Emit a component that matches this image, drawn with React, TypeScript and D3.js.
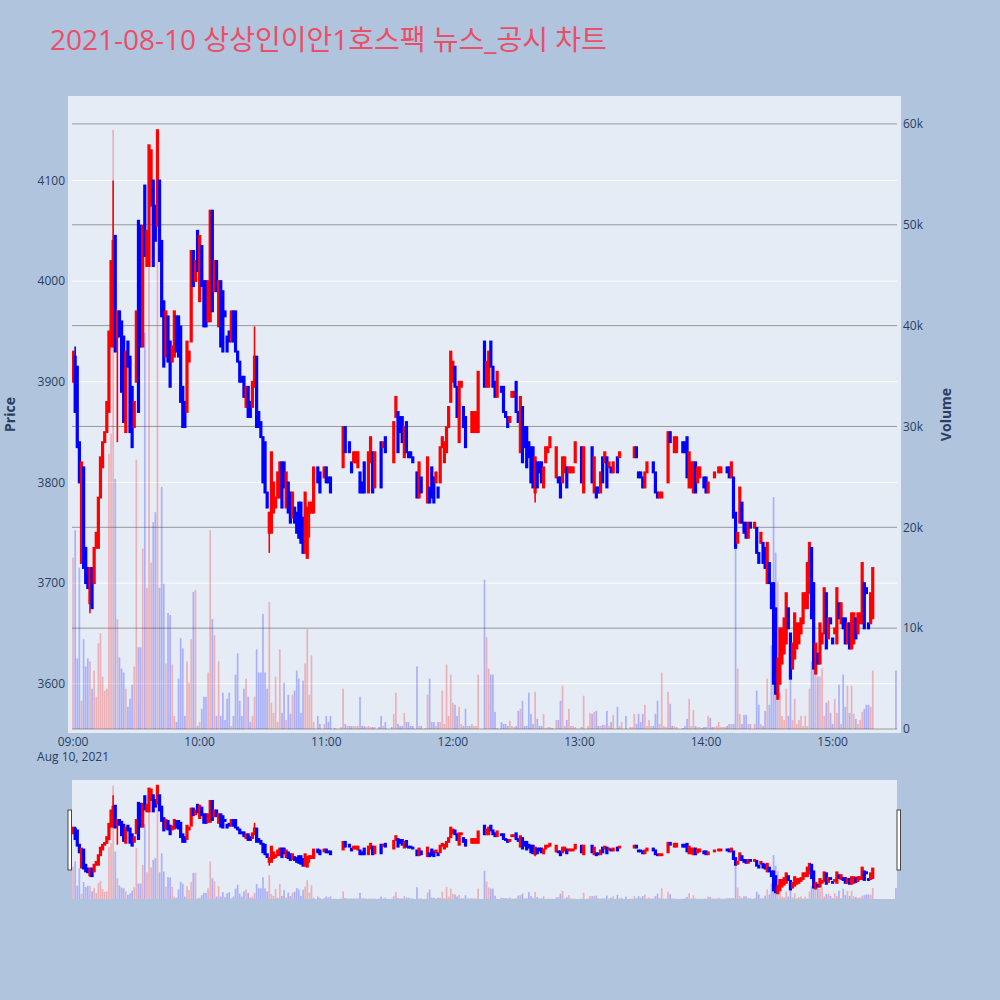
import * as React from 'react';
import * as d3 from 'd3';

const chartTitle = '2021-08-10 상상인이안1호스팩 뉴스_공시 차트';

// minutes after 09:00 for each 1-minute candle
const minutes = [
    0, 1, 2, 3, 4, 5, 6, 7, 8, 9, 10, 11, 12, 13, 14, 15, 16, 17, 18, 19,
    20, 21, 22, 23, 24, 25, 26, 27, 28, 29, 30, 31, 32, 33, 34, 35, 36, 37, 38, 39,
    40, 41, 42, 43, 44, 45, 46, 47, 48, 49, 50, 51, 52, 53, 54, 55, 56, 57, 58, 59,
    60, 61, 62, 63, 64, 65, 66, 67, 68, 69, 70, 71, 72, 73, 74, 75, 76, 77, 78, 79,
    80, 81, 82, 83, 84, 85, 86, 87, 88, 89, 90, 91, 92, 93, 94, 95, 96, 97, 98, 99,
    100, 101, 102, 103, 104, 105, 106, 107, 108, 109, 110, 111, 112, 113, 114, 116, 117, 119, 120, 121,
    122, 124, 127, 128, 129, 130, 131, 132, 133, 134, 135, 136, 137, 138, 139, 140, 141, 142, 143, 145,
    146, 147, 148, 151, 152, 153, 154, 155, 156, 157, 158, 159, 160, 161, 163, 164, 165, 167, 168, 169,
    170, 171, 172, 173, 174, 175, 176, 177, 178, 179, 180, 181, 182, 183, 184, 185, 186, 187, 188, 189,
    190, 191, 192, 195, 196, 197, 198, 199, 200, 201, 203, 204, 205, 206, 207, 208, 209, 210, 211, 212,
    213, 214, 215, 216, 217, 218, 219, 220, 221, 222, 223, 224, 225, 226, 227, 229, 230, 231, 232, 233,
    234, 235, 236, 237, 238, 241, 242, 244, 245, 246, 247, 248, 249, 250, 251, 252, 253, 254, 255, 256,
    258, 259, 260, 262, 264, 265, 266, 267, 268, 269, 270, 271, 272, 273, 274, 275, 276, 277, 278, 279,
    280, 281, 282, 283, 284, 285, 286, 289, 290, 291, 292, 293, 294, 295, 296, 297, 298, 299, 300, 301,
    302, 303, 304, 305, 306, 307, 308, 309, 310, 311, 312, 313, 314, 315, 316, 317, 318, 319, 320, 321,
    323, 324, 325, 326, 327, 328, 329, 330, 331, 332, 333, 334, 335, 336, 337, 338, 339, 340, 341, 342,
    343, 344, 345, 346, 347, 348, 349, 350, 351, 352, 353, 354, 355, 356, 357, 358, 359, 360, 361, 362,
    363, 364, 365, 366, 367, 368, 369, 370, 371, 372, 373, 374, 375, 376, 377, 378, 379, 390,
];

const opens = [
    3900, 3925, 3915, 3840, 3720, 3815, 3735, 3715, 3680, 3715, 3700, 3735, 3735, 3785, 3815, 3840, 3850, 3870, 3935, 3935,
    4045, 3945, 3970, 3960, 3945, 3850, 3940, 3925, 3895, 3855, 3900, 4060, 4055, 3935, 4095, 4015, 4015, 4075, 4100, 4075,
    4055, 4100, 4040, 3980, 3925, 3965, 3940, 3920, 3925, 3965, 3965, 3955, 3895, 3880, 3870, 3920, 3940, 4030, 4000, 4050,
    3980, 4035, 4000, 4000, 3960, 3960, 4070, 3990, 4020, 3955, 4000, 3990, 3970, 3945, 3950, 3940, 3970, 3970, 3930, 3920,
    3905, 3905, 3875, 3895, 3880, 3875, 3895, 3925, 3870, 3860, 3845, 3840, 3790, 3750, 3750, 3770, 3775, 3785, 3785, 3820,
    3820, 3775, 3800, 3790, 3765, 3775, 3770, 3780, 3780, 3765, 3730, 3725, 3770, 3770, 3770, 3815, 3810, 3805, 3815, 3805,
    3805, 3790, 3810, 3815, 3855, 3845, 3840, 3820, 3820, 3820, 3815, 3810, 3800, 3820, 3810, 3790, 3820, 3830, 3795, 3805,
    3840, 3835, 3845, 3825, 3820, 3865, 3870, 3865, 3865, 3825, 3860, 3830, 3830, 3825, 3810, 3785, 3805, 3800, 3780, 3795,
    3815, 3805, 3800, 3795, 3800, 3835, 3820, 3830, 3855, 3880, 3900, 3915, 3895, 3840, 3895, 3875, 3865, 3870, 3850, 3850,
    3850, 3850, 3850, 3940, 3895, 3895, 3940, 3915, 3900, 3885, 3895, 3895, 3870, 3865, 3860, 3885, 3885, 3900, 3870, 3830,
    3875, 3855, 3855, 3840, 3835, 3835, 3790, 3820, 3820, 3820, 3795, 3820, 3830, 3835, 3830, 3805, 3805, 3805, 3800, 3810,
    3815, 3810, 3810, 3810, 3820, 3835, 3790, 3835, 3835, 3835, 3790, 3795, 3795, 3790, 3825, 3820, 3825, 3815, 3815, 3810,
    3825, 3825, 3830, 3815, 3825, 3825, 3825, 3835, 3810, 3810, 3805, 3795, 3810, 3820, 3820, 3820, 3810, 3790, 3785, 3785,
    3800, 3800, 3800, 3850, 3830, 3830, 3830, 3840, 3840, 3845, 3795, 3795, 3790, 3820, 3800, 3805, 3810, 3805, 3805, 3790,
    3795, 3795, 3805, 3810, 3810, 3810, 3815, 3815, 3815, 3815, 3805, 3805, 3770, 3740, 3760, 3780, 3760, 3760, 3745, 3760,
    3755, 3755, 3730, 3740, 3740, 3735, 3700, 3720, 3700, 3700, 3675, 3585, 3600, 3620, 3630, 3640, 3675, 3650, 3615, 3625,
    3635, 3640, 3650, 3660, 3675, 3675, 3690, 3735, 3700, 3610, 3630, 3620, 3640, 3650, 3690, 3645, 3665, 3645, 3650, 3640,
    3680, 3660, 3665, 3665, 3640, 3660, 3635, 3640, 3665, 3650, 3660, 3660, 3700, 3695, 3660, 3660, 3665, 3680,
];

const highs = [
    3930, 3935, 3915, 3840, 3820, 3815, 3735, 3715, 3715, 3715, 3735, 3750, 3785, 3825, 3840, 3850, 3880, 3950, 4020, 4100,
    4045, 3970, 3970, 3960, 3945, 3930, 3940, 3925, 3895, 3880, 3970, 4060, 4055, 4055, 4095, 4050, 4135, 4130, 4100, 4075,
    4150, 4100, 4040, 3980, 3970, 3965, 3940, 3935, 3970, 3965, 3965, 3955, 3895, 3880, 3940, 3930, 4030, 4030, 4020, 4050,
    4045, 4035, 4000, 4000, 4000, 4070, 4070, 4020, 4020, 4000, 4000, 3990, 3970, 3945, 3950, 3970, 3970, 3970, 3930, 3920,
    3905, 3905, 3895, 3895, 3880, 3900, 3955, 3925, 3870, 3860, 3845, 3840, 3790, 3770, 3830, 3800, 3785, 3810, 3820, 3820,
    3820, 3810, 3800, 3790, 3790, 3775, 3770, 3780, 3780, 3765, 3790, 3775, 3780, 3780, 3815, 3815, 3810, 3815, 3815, 3805,
    3805, 3790, 3810, 3855, 3855, 3845, 3840, 3820, 3830, 3830, 3830, 3810, 3800, 3820, 3810, 3830, 3845, 3830, 3830, 3805,
    3840, 3840, 3845, 3825, 3860, 3885, 3870, 3865, 3865, 3855, 3860, 3830, 3830, 3825, 3810, 3820, 3805, 3800, 3825, 3795,
    3815, 3805, 3810, 3795, 3835, 3845, 3840, 3855, 3875, 3930, 3920, 3915, 3895, 3900, 3900, 3875, 3865, 3870, 3850, 3870,
    3870, 3870, 3910, 3940, 3920, 3930, 3940, 3915, 3900, 3910, 3895, 3895, 3870, 3865, 3865, 3890, 3890, 3900, 3870, 3885,
    3875, 3855, 3855, 3840, 3835, 3835, 3825, 3820, 3820, 3820, 3815, 3835, 3835, 3845, 3830, 3835, 3805, 3805, 3825, 3825,
    3815, 3815, 3815, 3815, 3840, 3835, 3835, 3835, 3835, 3835, 3825, 3795, 3795, 3810, 3825, 3830, 3825, 3820, 3815, 3820,
    3825, 3830, 3830, 3815, 3825, 3825, 3835, 3835, 3810, 3810, 3805, 3810, 3820, 3820, 3820, 3820, 3810, 3790, 3790, 3790,
    3800, 3800, 3850, 3850, 3830, 3845, 3845, 3840, 3840, 3845, 3830, 3820, 3820, 3820, 3815, 3815, 3810, 3805, 3805, 3800,
    3795, 3795, 3810, 3810, 3815, 3815, 3815, 3815, 3815, 3815, 3820, 3805, 3770, 3750, 3795, 3780, 3760, 3760, 3760, 3760,
    3760, 3755, 3730, 3750, 3740, 3735, 3740, 3720, 3700, 3700, 3675, 3625, 3655, 3655, 3665, 3690, 3675, 3650, 3640, 3670,
    3660, 3660, 3665, 3690, 3690, 3720, 3740, 3735, 3700, 3640, 3630, 3660, 3650, 3695, 3690, 3665, 3665, 3645, 3655, 3695,
    3680, 3680, 3665, 3665, 3660, 3660, 3670, 3670, 3665, 3670, 3670, 3720, 3700, 3695, 3660, 3690, 3715, 3680,
];

const lows = [
    3900, 3870, 3835, 3800, 3720, 3715, 3700, 3695, 3670, 3675, 3700, 3735, 3735, 3785, 3815, 3840, 3850, 3870, 3935, 3935,
    3930, 3840, 3945, 3890, 3860, 3850, 3915, 3850, 3835, 3855, 3900, 3870, 3935, 3935, 4025, 4015, 4015, 4075, 4015, 4040,
    4055, 4020, 3965, 3915, 3925, 3920, 3895, 3920, 3925, 3930, 3925, 3880, 3855, 3855, 3870, 3920, 3940, 3995, 4000, 4010,
    3980, 3995, 3955, 3955, 3960, 3960, 3970, 3990, 3990, 3955, 3935, 3930, 3965, 3930, 3940, 3940, 3940, 3930, 3920, 3900,
    3900, 3885, 3875, 3865, 3865, 3875, 3895, 3855, 3855, 3845, 3800, 3790, 3775, 3730, 3750, 3770, 3775, 3785, 3785, 3775,
    3795, 3775, 3770, 3760, 3765, 3760, 3750, 3745, 3740, 3730, 3730, 3725, 3745, 3770, 3770, 3800, 3790, 3805, 3800, 3800,
    3790, 3790, 3810, 3815, 3830, 3845, 3830, 3810, 3820, 3820, 3815, 3790, 3790, 3790, 3810, 3790, 3820, 3790, 3795, 3805,
    3795, 3835, 3830, 3825, 3820, 3865, 3830, 3850, 3840, 3825, 3830, 3825, 3825, 3820, 3785, 3785, 3790, 3800, 3780, 3780,
    3785, 3780, 3800, 3785, 3800, 3835, 3820, 3830, 3855, 3880, 3900, 3895, 3865, 3840, 3895, 3855, 3835, 3870, 3850, 3850,
    3850, 3850, 3850, 3895, 3895, 3895, 3915, 3895, 3885, 3885, 3890, 3870, 3865, 3855, 3860, 3885, 3885, 3870, 3860, 3830,
    3820, 3835, 3815, 3825, 3800, 3795, 3780, 3795, 3810, 3800, 3795, 3820, 3830, 3835, 3830, 3805, 3800, 3785, 3800, 3810,
    3795, 3810, 3810, 3810, 3820, 3800, 3790, 3835, 3835, 3800, 3790, 3785, 3790, 3790, 3800, 3820, 3795, 3815, 3810, 3810,
    3810, 3825, 3830, 3815, 3825, 3825, 3825, 3825, 3805, 3805, 3795, 3795, 3810, 3820, 3820, 3810, 3790, 3785, 3785, 3785,
    3800, 3800, 3800, 3840, 3830, 3830, 3830, 3830, 3830, 3805, 3795, 3795, 3790, 3790, 3800, 3805, 3810, 3795, 3790, 3790,
    3795, 3795, 3805, 3810, 3810, 3810, 3815, 3815, 3810, 3805, 3805, 3765, 3735, 3740, 3760, 3760, 3750, 3745, 3745, 3755,
    3755, 3730, 3720, 3740, 3720, 3715, 3700, 3700, 3675, 3600, 3590, 3585, 3600, 3620, 3630, 3640, 3655, 3605, 3615, 3625,
    3635, 3640, 3650, 3660, 3675, 3675, 3690, 3665, 3615, 3610, 3620, 3620, 3640, 3650, 3635, 3645, 3660, 3640, 3650, 3640,
    3665, 3660, 3655, 3640, 3640, 3635, 3635, 3640, 3645, 3650, 3660, 3660, 3655, 3690, 3655, 3660, 3665, 3680,
];

const closes = [
    3930, 3870, 3835, 3800, 3820, 3715, 3700, 3695, 3715, 3675, 3735, 3750, 3785, 3825, 3840, 3850, 3880, 3950, 4020, 4040,
    3930, 3970, 3945, 3890, 3860, 3930, 3915, 3850, 3835, 3880, 3970, 3870, 3935, 4055, 4025, 4050, 4135, 4130, 4015, 4040,
    4150, 4020, 3965, 3915, 3970, 3920, 3895, 3935, 3970, 3930, 3925, 3880, 3855, 3855, 3940, 3930, 4030, 3995, 4020, 4010,
    4045, 3995, 3955, 3955, 4000, 4070, 3970, 4020, 3990, 4000, 3935, 3930, 3965, 3930, 3940, 3970, 3940, 3930, 3920, 3900,
    3900, 3885, 3895, 3865, 3865, 3900, 3925, 3855, 3855, 3845, 3800, 3790, 3775, 3770, 3830, 3800, 3785, 3810, 3820, 3775,
    3795, 3810, 3770, 3760, 3790, 3760, 3750, 3745, 3740, 3730, 3790, 3775, 3780, 3780, 3815, 3800, 3790, 3815, 3800, 3800,
    3790, 3790, 3810, 3855, 3830, 3845, 3830, 3810, 3830, 3830, 3830, 3790, 3790, 3790, 3810, 3830, 3845, 3790, 3830, 3805,
    3795, 3840, 3830, 3825, 3860, 3885, 3830, 3850, 3840, 3855, 3830, 3825, 3825, 3820, 3785, 3820, 3790, 3800, 3825, 3780,
    3785, 3780, 3810, 3785, 3835, 3845, 3840, 3855, 3875, 3930, 3920, 3895, 3865, 3900, 3900, 3855, 3835, 3870, 3850, 3870,
    3870, 3870, 3910, 3895, 3920, 3930, 3915, 3895, 3885, 3910, 3890, 3870, 3865, 3855, 3865, 3890, 3890, 3870, 3860, 3885,
    3820, 3835, 3815, 3825, 3800, 3795, 3825, 3795, 3810, 3800, 3815, 3835, 3835, 3845, 3830, 3835, 3800, 3785, 3825, 3825,
    3795, 3815, 3815, 3815, 3840, 3800, 3835, 3835, 3835, 3800, 3825, 3785, 3790, 3810, 3800, 3830, 3795, 3820, 3810, 3820,
    3810, 3830, 3830, 3815, 3825, 3825, 3835, 3825, 3805, 3805, 3795, 3810, 3820, 3820, 3820, 3810, 3790, 3785, 3790, 3790,
    3800, 3800, 3850, 3840, 3830, 3845, 3845, 3830, 3830, 3805, 3830, 3820, 3820, 3790, 3815, 3815, 3810, 3795, 3790, 3800,
    3795, 3795, 3810, 3810, 3815, 3815, 3815, 3815, 3810, 3805, 3820, 3765, 3735, 3750, 3795, 3760, 3750, 3745, 3760, 3755,
    3760, 3730, 3720, 3750, 3720, 3715, 3740, 3700, 3675, 3600, 3590, 3625, 3655, 3655, 3665, 3690, 3655, 3605, 3640, 3670,
    3660, 3660, 3665, 3690, 3690, 3720, 3740, 3665, 3615, 3640, 3620, 3660, 3650, 3695, 3635, 3665, 3660, 3640, 3655, 3695,
    3665, 3680, 3655, 3640, 3660, 3635, 3670, 3670, 3645, 3670, 3670, 3720, 3655, 3690, 3655, 3690, 3715, 3680,
];

// traded volume per minute, in thousands of shares
const volumesK = [
    17, 19.7, 7, 16, 2.8, 8.9, 6.2, 7, 6.7, 4, 5.8, 3.2, 8.5, 9.5, 5.2, 3.8, 4, 27.3, 29.3, 59.4,
    24.8, 10.9, 7.1, 6, 5.6, 4, 2.2, 3, 4.4, 6.2, 26.7, 8.1, 8.1, 17.9, 39.3, 14, 46.4, 16.5, 20.5, 21.5,
    57, 14, 24, 14.4, 6.5, 11.5, 11.3, 6.4, 1.3, 0.7, 5, 9, 8, 1.3, 6.7, 4.6, 8.9, 13.6, 13.8, 0.3,
    0.7, 2, 3.2, 3.2, 5.6, 19.7, 10.9, 9.3, 1.3, 6.7, 1.3, 3.6, 0.9, 3, 3.6, 0.3, 1.3, 5.4, 7.5, 2.8,
    1.3, 4, 5, 3.2, 0.7, 1.3, 3.2, 7.9, 5.6, 5.6, 11.4, 5.6, 4, 12.6, 2.6, 1.6, 5.2, 0.7, 7.9, 1.6,
    4.6, 0.9, 3.4, 1.5, 3.4, 3.8, 5.8, 5, 1.6, 4.8, 6.5, 9.9, 3.4, 7.3, 0.7, 1.3, 0.5, 0.5, 1.3, 0.7,
    1.3, 0.1, 0.2, 4, 0.5, 0.3, 0.3, 0.3, 0.3, 0.3, 0.3, 3.2, 0.3, 0.3, 0.2, 0.3, 0.2, 0.2, 0.2, 0.2,
    1.3, 0.3, 0.7, 0.2, 1.5, 3.6, 0.5, 0.3, 0.3, 1.6, 0.7, 0.7, 0.3, 0.3, 6.2, 0.3, 0.3, 0.1, 3.4, 5,
    0.7, 0.7, 0.3, 0.7, 0.7, 3.8, 0.5, 6.4, 1.3, 5.4, 2.6, 2.4, 1.3, 2.2, 0.5, 0.3, 2, 0.3, 0.3, 0.5,
    0.3, 0.3, 5.4, 14.8, 9.1, 6, 5.4, 5.4, 1.7, 0.1, 0.7, 0.5, 0.5, 0.3, 0.8, 0.3, 0.2, 0.3, 1.8, 2,
    2.8, 0.3, 0.3, 3.6, 1.5, 0.5, 3.7, 1, 0.3, 0.3, 1.5, 0.1, 0.2, 0.2, 0.1, 0.9, 0.9, 2.8, 4.3, 0.3,
    0.9, 2, 0.3, 0.3, 0.2, 0.2, 3.3, 0.3, 1.6, 1.5, 1.7, 1.8, 0.3, 0.3, 0.4, 0.4, 1.8, 0.3, 0.7, 1.4,
    2.2, 0.3, 0.7, 1.3, 0.2, 0.2, 1.5, 0.5, 1.5, 0.7, 1.5, 2.4, 0.3, 0.9, 0.3, 0.3, 1.5, 2.8, 0.5, 5.6,
    0.3, 0.2, 3.7, 2.5, 0.3, 0.3, 0.2, 0.1, 0.3, 1, 3, 0.3, 1.9, 0.3, 0.2, 0.2, 0.1, 0.2, 0.2, 1.3,
    1.1, 0.2, 0.2, 0.3, 0.7, 0.2, 0.2, 0.2, 0.3, 0.5, 0.5, 0.5, 18.2, 6, 1.5, 0.5, 1.4, 1.4, 0.5, 0.5,
    0.5, 3.8, 2.4, 0.5, 0.3, 1.8, 5, 2.4, 8.3, 23, 17.5, 14.6, 3.6, 1.3, 0.9, 4, 1.3, 8.5, 0.9, 3,
    0.5, 0.9, 1.3, 0.3, 1.3, 0.3, 4, 6.7, 7.1, 7, 5.2, 5.2, 6, 1.3, 2.6, 2.8, 1.6, 0.5, 3, 1.6,
    4.4, 0.5, 5.4, 2.2, 4.3, 1.6, 4.3, 1.5, 1, 0.5, 0.9, 1.7, 2, 2.4, 2.4, 2.2, 5.8, 5.8,
];

const upColor = '#ff0000';
const downColor = '#0000ff';
const textColor = '#2a3f5f';
const plotBg = '#E5ECF6';

const plotArea = { left: 72, right: 897, top: 100, bottom: 729 };
const sliderArea = { top: 780, bottom: 899 };

interface Candle {
    t: Date;
    o: number;
    h: number;
    l: number;
    c: number;
    v: number;
    inc: boolean;
}

const App: React.FunctionComponent = () => {
    const ref = React.useRef<SVGSVGElement>(null);

    React.useEffect(() => {
        if (!ref.current) {
            return;
        }
        const svg = d3.select(ref.current);
        svg.selectAll('*').remove();

        // plotly style direction: equal open/close falls back on previous close
        let prevClose: number | undefined;
        let prevInc = true;
        const candles: Candle[] = minutes.map((m, i) => {
            const o = opens[i], c = closes[i];
            let inc: boolean;
            if (c > o) inc = true;
            else if (c < o) inc = false;
            else if (prevClose !== undefined && c > prevClose) inc = true;
            else if (prevClose !== undefined && c < prevClose) inc = false;
            else inc = prevInc;
            prevClose = c;
            prevInc = inc;
            return { t: new Date(2021, 7, 10, 9, m), o, h: highs[i], l: lows[i], c, v: volumesK[i] * 1000, inc };
        });

        const halfMinute = 30 * 1000;
        const x = d3.scaleTime()
            .domain([new Date(+candles[0].t - halfMinute), new Date(+candles[candles.length - 1].t + halfMinute)])
            .range([plotArea.left, plotArea.right]);
        const minLow = d3.min(candles, d => d.l) as number;
        const maxHigh = d3.max(candles, d => d.h) as number;
        const pad = (maxHigh - minLow) * 0.053;
        const priceDomain = [minLow - pad, maxHigh + pad];
        const volDomain = [0, (d3.max(candles, d => d.v) as number) * 1.05];

        const y = d3.scaleLinear().domain(priceDomain).range([plotArea.bottom, plotArea.top]);
        const yv = d3.scaleLinear().domain(volDomain).range([plotArea.bottom, plotArea.top]);
        const ys = d3.scaleLinear().domain(priceDomain).range([sliderArea.bottom, sliderArea.top]);
        const yvs = d3.scaleLinear().domain(volDomain).range([sliderArea.bottom, sliderArea.top]);

        const defs = svg.append('defs');
        defs.append('clipPath').attr('id', 'main-clip').append('rect')
            .attr('x', plotArea.left).attr('y', plotArea.top)
            .attr('width', plotArea.right - plotArea.left).attr('height', plotArea.bottom - plotArea.top);
        defs.append('clipPath').attr('id', 'slider-clip').append('rect')
            .attr('x', plotArea.left).attr('y', sliderArea.top)
            .attr('width', plotArea.right - plotArea.left).attr('height', sliderArea.bottom - sliderArea.top);

        svg.append('rect').attr('width', 1000).attr('height', 1000).attr('fill', '#B0C4DE');

        // title
        svg.append('text')
            .attr('x', 50).attr('y', 50)
            .attr('font-family', "'Open Sans', 'Noto Sans CJK KR', sans-serif")
            .attr('font-size', 28)
            .attr('fill', '#EA4F67')
            .text(chartTitle);

        // plot background
        svg.append('rect')
            .attr('x', plotArea.left - 4).attr('y', plotArea.top - 4)
            .attr('width', plotArea.right - plotArea.left + 8).attr('height', plotArea.bottom - plotArea.top + 8)
            .attr('fill', plotBg);

        const priceTicks = y.ticks(6);
        const volTicks = yv.ticks(6);

        svg.append('g').selectAll('line')
            .data(priceTicks)
            .join('line')
            .attr('x1', plotArea.left).attr('x2', plotArea.right)
            .attr('y1', d => y(d)).attr('y2', d => y(d))
            .attr('stroke', '#ffffff').attr('stroke-width', 1);
        svg.append('g').selectAll('line')
            .data(volTicks)
            .join('line')
            .attr('x1', plotArea.left).attr('x2', plotArea.right)
            .attr('y1', d => yv(d)).attr('y2', d => yv(d))
            .attr('stroke', '#999999').attr('stroke-width', 1);

        const drawSeries = (g: d3.Selection<SVGGElement, unknown, null, undefined>,
                            py: d3.ScaleLinear<number, number>, vy: d3.ScaleLinear<number, number>) => {
            const c = g.selectAll('g.candle')
                .data(candles)
                .join('g').attr('class', 'candle');
            c.append('line')
                .attr('x1', d => x(d.t)).attr('x2', d => x(d.t))
                .attr('y1', d => py(d.h)).attr('y2', d => py(d.l))
                .attr('stroke', d => d.inc ? upColor : downColor)
                .attr('stroke-width', 1.6);
            c.append('rect')
                .attr('x', d => x(d.t) - 0.65)
                .attr('width', 1.3)
                .attr('y', d => py(Math.max(d.o, d.c)))
                .attr('height', d => Math.abs(py(d.o) - py(d.c)))
                .attr('fill', d => d.inc ? upColor : downColor)
                .attr('stroke', d => d.inc ? upColor : downColor)
                .attr('stroke-width', 1.9);
            g.selectAll('rect.vol')
                .data(candles)
                .join('rect').attr('class', 'vol')
                .attr('x', d => x(d.t) - 0.85)
                .attr('width', 1.7)
                .attr('y', d => vy(d.v))
                .attr('height', d => vy(0) - vy(d.v))
                .attr('fill', d => d.inc ? 'rgba(255,0,0,0.25)' : 'rgba(0,0,255,0.25)');
        };

        const main = svg.append('g').attr('clip-path', 'url(#main-clip)');
        drawSeries(main, y, yv);

        // axis labels
        const font = "'Open Sans', sans-serif";
        svg.append('g').selectAll('text')
            .data(priceTicks)
            .join('text')
            .attr('x', 65).attr('y', d => y(d)).attr('dy', '0.35em')
            .attr('text-anchor', 'end')
            .attr('font-family', font).attr('font-size', 12).attr('fill', textColor)
            .text(d => String(d));
        svg.append('g').selectAll('text')
            .data(volTicks)
            .join('text')
            .attr('x', 903).attr('y', d => yv(d)).attr('dy', '0.35em')
            .attr('text-anchor', 'start')
            .attr('font-family', font).attr('font-size', 12).attr('fill', textColor)
            .text(d => d3.format('~s')(d));
        const hourTicks = x.ticks(d3.timeHour.every(1) as d3.TimeInterval);
        svg.append('g').selectAll('text')
            .data(hourTicks)
            .join('text')
            .attr('x', d => x(d)).attr('y', 746)
            .attr('text-anchor', 'middle')
            .attr('font-family', font).attr('font-size', 12).attr('fill', textColor)
            .text(d => d3.timeFormat('%H:%M')(d));
        svg.append('text')
            .attr('x', x(hourTicks[0])).attr('y', 761)
            .attr('text-anchor', 'middle')
            .attr('font-family', font).attr('font-size', 12).attr('fill', textColor)
            .text(d3.timeFormat('%b %-d, %Y')(hourTicks[0]));

        const midY = (plotArea.top + plotArea.bottom) / 2;
        svg.append('text')
            .attr('transform', `translate(9,${midY}) rotate(-90)`)
            .attr('text-anchor', 'middle').attr('dominant-baseline', 'central')
            .attr('font-family', font).attr('font-size', 14).attr('font-weight', 'bold').attr('fill', textColor)
            .text('Price');
        svg.append('text')
            .attr('transform', `translate(945,${midY}) rotate(-90)`)
            .attr('text-anchor', 'middle').attr('dominant-baseline', 'central')
            .attr('font-family', font).attr('font-size', 14).attr('font-weight', 'bold').attr('fill', textColor)
            .text('Volume');

        // range slider
        svg.append('rect')
            .attr('x', plotArea.left).attr('y', sliderArea.top)
            .attr('width', plotArea.right - plotArea.left).attr('height', sliderArea.bottom - sliderArea.top)
            .attr('fill', plotBg);
        const slider = svg.append('g').attr('clip-path', 'url(#slider-clip)');
        drawSeries(slider, ys, yvs);
        svg.append('g').selectAll('rect')
            .data([plotArea.left - 2, plotArea.right + 2])
            .join('rect')
            .attr('x', d => d - 2).attr('y', 810)
            .attr('width', 3.5).attr('height', 60)
            .attr('fill', '#ffffff').attr('stroke', '#444444').attr('stroke-width', 1);
    }, []);

    return <svg ref={ref} width={1000} height={1000} style={{ position: 'absolute', left: 0, top: 0 }} />;
};

export default App;
